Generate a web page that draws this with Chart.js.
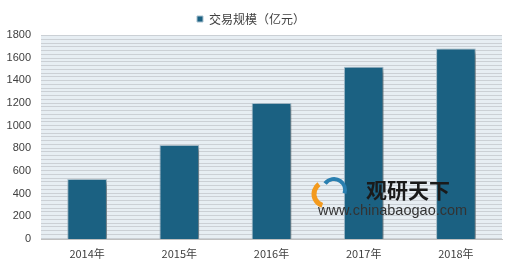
<!DOCTYPE html>
<html><head><meta charset="utf-8">
<script src="https://cdn.jsdelivr.net/npm/chart.js@4/dist/chart.umd.min.js"></script>
<style>html,body{margin:0;padding:0;background:#fff}#wrap{width:520px;height:263px}</style>
</head><body><div id="wrap"><canvas id="c" width="520" height="263"></canvas></div>
<script>
const categories = ['2014年','2015年','2016年','2017年','2018年'];
const seriesName = '交易规模（亿元）';
const values = [530, 830, 1200, 1520, 1680];
const yTicks = [0,200,400,600,800,1000,1200,1400,1600,1800];

const stripes = {
  id:'stripes',
  beforeDraw(chart){
    const {ctx, chartArea:a} = chart;
    ctx.save();
    ctx.fillStyle = '#e7eef3';
    ctx.fillRect(a.left, a.top, a.right-a.left, a.bottom-a.top);
    ctx.fillStyle = '#cbd0d5';
    for(let y=a.top; y<a.bottom; y+=3.75){
      ctx.fillRect(a.left, Math.round(y), a.right-a.left, 1);
    }
    ctx.restore();
  }
};
const shadow = {
  id:'shadow',
  beforeDatasetsDraw(chart){
    const ctx=chart.ctx; ctx.save();
    ctx.shadowColor='rgba(0,0,0,0.45)'; ctx.shadowBlur=5; ctx.shadowOffsetX=3; ctx.shadowOffsetY=2;
  },
  afterDatasetsDraw(chart){ chart.ctx.restore(); }
};
const watermark = {
  id:'watermark',
  afterDraw(chart){
    const ctx=chart.ctx; ctx.save();
    ctx.lineWidth=5; ctx.strokeStyle='#f39a1e';
    ctx.beginPath(); ctx.arc(326,194,12,Math.PI*0.6,Math.PI*1.3); ctx.stroke();
    ctx.strokeStyle='#2a7fb0'; ctx.lineWidth=4;
    ctx.beginPath(); ctx.arc(334,190,11,Math.PI*1.2,Math.PI*2.1); ctx.stroke();
    ctx.fillStyle='#1a1a1a'; ctx.font='bold 21px "Noto Sans CJK SC"';
    ctx.textBaseline='middle'; ctx.textAlign='left';
    ctx.fillText('观研天下',366,190);
    ctx.fillStyle='#333'; ctx.font='14.5px "Liberation Sans"';
    ctx.fillText('www.chinabaogao.com',318,211);
    ctx.restore();
  }
};

new Chart(document.getElementById('c'),{
  type:'bar',
  data:{labels:categories,datasets:[{label:seriesName,data:values,backgroundColor:'#1b6182',borderColor:'#a9c1cf',borderWidth:1,barPercentage:0.43,categoryPercentage:1}]},
  options:{
    responsive:false,animation:false,
    layout:{padding:{left:0,right:18,top:0,bottom:0}},
    plugins:{
      legend:{position:'top',labels:{boxWidth:6,boxHeight:6,color:'#404040',font:{family:'"Noto Sans CJK SC"',size:12},padding:13}},
      tooltip:{enabled:false}
    },
    scales:{
      x:{afterFit(ax){ax.height=24;},grid:{display:false,drawTicks:false},border:{display:true,color:'#c0c0c0'},ticks:{color:'#404040',font:{family:'"Noto Sans CJK SC"',size:11},padding:8}},
      y:{min:0,max:1800,afterFit(ax){ax.width=41;},afterBuildTicks(ax){ax.ticks=yTicks.map(v=>({value:v}));},grid:{display:false,drawTicks:false},border:{display:false},ticks:{callback:v=>String(v),color:'#404040',font:{family:'"Liberation Sans"',size:11},padding:10}}
    }
  },
  plugins:[stripes,shadow,watermark]
});
</script></body></html>
